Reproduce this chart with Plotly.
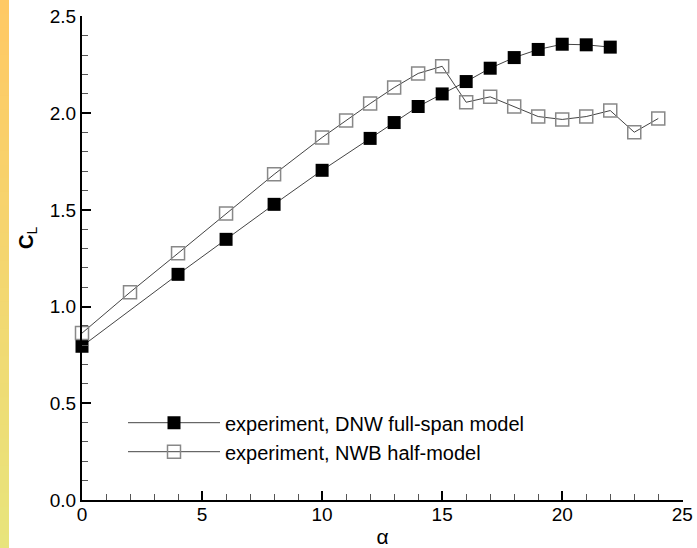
import plotly.graph_objects as go

alpha_dnw = [0, 4, 6, 8, 10, 12, 13, 14, 15, 16, 17, 18, 19, 20, 21, 22]
cl_dnw = [0.795, 1.167, 1.348, 1.529, 1.705, 1.870, 1.952, 2.035, 2.100, 2.164,
          2.233, 2.288, 2.330, 2.357, 2.354, 2.342]

alpha_nwb = [0, 2, 4, 6, 8, 10, 11, 12, 13, 14, 15, 16, 17, 18, 19, 20, 21, 22, 23, 24]
cl_nwb = [0.863, 1.074, 1.276, 1.482, 1.684, 1.875, 1.963, 2.050, 2.133, 2.206,
          2.243, 2.057, 2.085, 2.035, 1.983, 1.968, 1.983, 2.014, 1.902, 1.973]

name_dnw = "experiment, DNW full-span model"
name_nwb = "experiment, NWB half-model"

W, H = 697, 548
L, R, T, B = 82, 14, 16, 48
FONT = "Liberation Sans, Arial, Helvetica, sans-serif"
pw = W - L - R
ph = H - T - B

fig = go.Figure()
fig.add_trace(go.Scatter(
    x=alpha_dnw, y=cl_dnw, name=name_dnw, mode="lines+markers",
    line=dict(color="#444444", width=1),
    marker=dict(symbol="square", size=13, color="black", line=dict(color="black", width=0)),
    cliponaxis=False,
))
fig.add_trace(go.Scatter(
    x=alpha_nwb, y=cl_nwb, name=name_nwb, mode="lines+markers",
    line=dict(color="#444444", width=1),
    marker=dict(symbol="square-open", size=13, color="#888888", line=dict(color="#888888", width=1.5)),
    cliponaxis=False,
))

# left gradient strip (decoration)
n = 40
c0 = (255, 201, 100)
c1 = (232, 228, 124)
shapes = []
for i in range(n):
    f = i / (n - 1)
    col = "rgb(%d,%d,%d)" % tuple(round(c0[k] + (c1[k] - c0[k]) * f) for k in range(3))
    ytop = (H - B - (i * H / n)) / ph
    ybot = (H - B - ((i + 1) * H / n)) / ph
    shapes.append(dict(type="rect", xref="paper", yref="paper",
                       x0=(0 - L) / pw, x1=(9 - L) / pw, y0=ybot - 0.002, y1=ytop,
                       fillcolor=col, line=dict(width=0), layer="above"))

fig.update_layout(
    width=W, height=H,
    margin=dict(l=L, r=R, t=T, b=B, autoexpand=False),
    paper_bgcolor="white", plot_bgcolor="white",
    font=dict(family=FONT, size=16, color="black"),
    shapes=shapes,
    showlegend=True,
    legend=dict(x=(123 - L) / pw, y=0.2, xanchor="left", yanchor="top",
                bgcolor="rgba(0,0,0,0)", font=dict(size=20, family=FONT),
                itemwidth=92, tracegroupgap=0),
    annotations=[dict(text="<b>C</b><sub>L</sub>", textangle=-90, showarrow=False,
                      xref="paper", yref="paper",
                      x=(27 - L) / pw, y=(H - B - 238) / ph,
                      xanchor="center", yanchor="middle",
                      font=dict(size=20, family=FONT, color="black"))],
    xaxis=dict(range=[0, 25.03], dtick=5, tick0=0, tickmode="linear", showgrid=False, zeroline=False,
               automargin=False,
               showline=True, linecolor="black", linewidth=2,
               ticks="inside", ticklen=9, tickwidth=2, tickcolor="black",
               minor=dict(dtick=1, tick0=0, ticks="inside", ticklen=6, tickwidth=1, tickcolor="#555555", showgrid=False),
               tickfont=dict(size=19), ticklabelstandoff=-4,
               title=dict(text="α", font=dict(size=21), standoff=6)),
    yaxis=dict(range=[0, 2.503], dtick=0.5, tick0=0, tickmode="linear", showgrid=False, zeroline=False,
               automargin=False,
               showline=True, linecolor="black", linewidth=2,
               ticks="inside", ticklen=9, tickwidth=2, tickcolor="black",
               minor=dict(dtick=0.1, tick0=0, ticks="inside", ticklen=6, tickwidth=1, tickcolor="#555555", showgrid=False),
               tickformat=".1f", tickfont=dict(size=19)),
)

fig.write_html("out.html")
